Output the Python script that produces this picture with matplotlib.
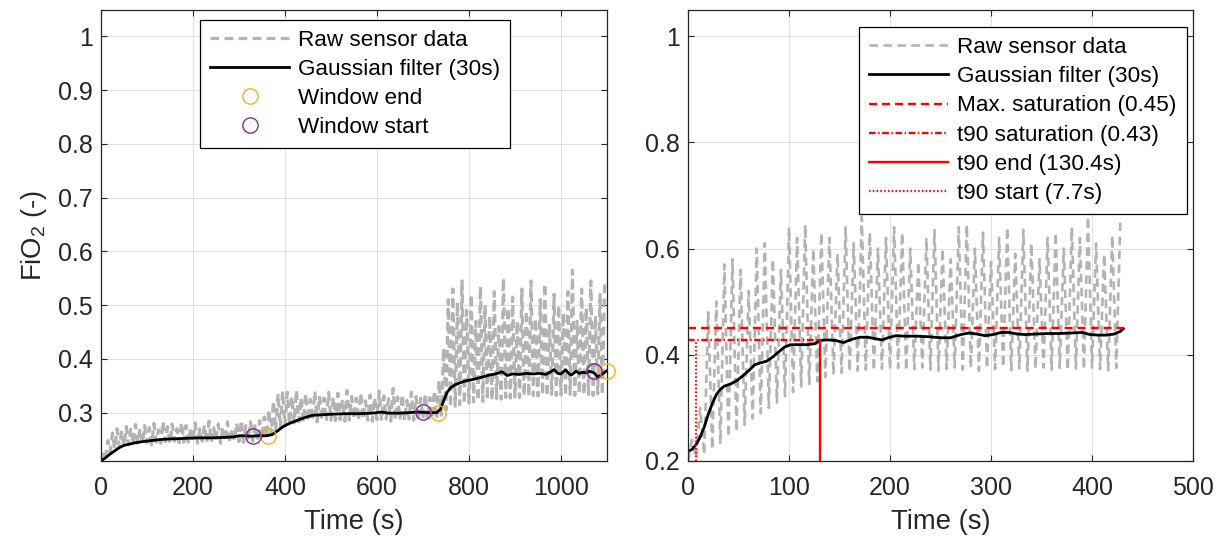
import numpy as np
import matplotlib
matplotlib.use("Agg")
import matplotlib.pyplot as plt

plt.rcParams["font.family"] = ["Liberation Sans", "DejaVu Sans"]
plt.rcParams["mathtext.default"] = "regular"

# --- left panel: full run, three windows ---------------------------------
left_period = 10  # s per breath
left_troughs = [
    0.210, 0.218, 0.226, 0.232, 0.236, 0.238, 0.240, 0.241, 0.243, 0.242,
    0.244, 0.240, 0.245, 0.243, 0.246, 0.242, 0.247, 0.244, 0.245, 0.243,
    0.246, 0.243, 0.247, 0.244, 0.245, 0.248, 0.243, 0.246, 0.244, 0.247,
    0.246, 0.245, 0.248, 0.247, 0.246, 0.250, 0.254, 0.260, 0.266, 0.272,
    0.276, 0.279, 0.281, 0.283, 0.282, 0.284, 0.285, 0.283, 0.286, 0.284,
    0.286, 0.285, 0.287, 0.284, 0.286, 0.288, 0.285, 0.287, 0.286, 0.284,
    0.287, 0.285, 0.288, 0.284, 0.286, 0.287, 0.285, 0.288, 0.286, 0.285,
    0.288, 0.286, 0.289, 0.287, 0.295, 0.305, 0.310, 0.312, 0.315, 0.316,
    0.318, 0.320, 0.322, 0.321, 0.324, 0.323, 0.326, 0.325, 0.328, 0.327,
    0.329, 0.328, 0.331, 0.330, 0.332, 0.331, 0.333, 0.330, 0.334, 0.332,
    0.333, 0.331, 0.334, 0.332, 0.335, 0.333, 0.334, 0.332, 0.335, 0.333,
]
left_peaks = [
    0.228, 0.248, 0.262, 0.270, 0.266, 0.274, 0.272, 0.278, 0.270, 0.276,
    0.272, 0.280, 0.268, 0.284, 0.274, 0.279, 0.270, 0.282, 0.276, 0.272,
    0.281, 0.270, 0.277, 0.284, 0.272, 0.279, 0.274, 0.283, 0.271, 0.280,
    0.286, 0.276, 0.283, 0.278, 0.285, 0.292, 0.305, 0.322, 0.335, 0.340,
    0.338, 0.330, 0.342, 0.328, 0.336, 0.325, 0.340, 0.331, 0.327, 0.338,
    0.329, 0.336, 0.324, 0.341, 0.330, 0.327, 0.337, 0.322, 0.333, 0.328,
    0.340, 0.331, 0.326, 0.345, 0.329, 0.334, 0.323, 0.338, 0.330, 0.327,
    0.336, 0.328, 0.341, 0.360, 0.420, 0.510, 0.530, 0.505, 0.545, 0.490,
    0.520, 0.470, 0.535, 0.500, 0.480, 0.525, 0.460, 0.550, 0.495, 0.515,
    0.470, 0.530, 0.490, 0.545, 0.475, 0.510, 0.540, 0.465, 0.520, 0.500,
    0.485, 0.525, 0.565, 0.470, 0.530, 0.495, 0.545, 0.480, 0.520, 0.540,
]
left_filt_t = [
    0, 10, 20, 30, 40, 50, 60, 75, 90, 110, 130, 150, 180, 210, 240, 270,
    290, 300, 315, 325, 340, 360, 372, 384, 396, 410, 425, 440, 460, 480,
    500, 530, 560, 590, 610, 625, 650, 670, 690, 710, 730, 738, 745, 752,
    760, 770, 792, 810, 828, 845, 858, 872, 883, 895, 910, 925, 940, 955,
    967, 976, 985, 993, 1000, 1010, 1018, 1023, 1033, 1040, 1047, 1055,
    1062, 1072, 1080, 1090, 1100,
]
left_filt_y = [
    0.210, 0.216, 0.223, 0.229, 0.235, 0.239, 0.241, 0.244, 0.246, 0.248,
    0.250, 0.251, 0.252, 0.253, 0.253, 0.254, 0.255, 0.257, 0.257, 0.256,
    0.257, 0.257, 0.259, 0.266, 0.274, 0.280, 0.285, 0.290, 0.295, 0.296,
    0.297, 0.298, 0.298, 0.299, 0.301, 0.299, 0.299, 0.300, 0.301, 0.300,
    0.300, 0.306, 0.322, 0.337, 0.346, 0.352, 0.359, 0.362, 0.366, 0.370,
    0.372, 0.376, 0.369, 0.372, 0.371, 0.373, 0.372, 0.373, 0.371, 0.375,
    0.380, 0.373, 0.372, 0.380, 0.372, 0.370, 0.377, 0.373, 0.375, 0.374,
    0.377, 0.374, 0.366, 0.372, 0.378,
]
win_start_t = [331, 700, 1071]
win_start_y = [0.256, 0.302, 0.377]
win_end_t = [363, 733, 1100]
win_end_y = [0.256, 0.300, 0.377]

# --- right panel: one window, t90 analysis ---------------------------------
right_period = 8
right_troughs = [
    0.200, 0.205, 0.212, 0.222, 0.232, 0.245, 0.255, 0.268, 0.280, 0.290,
    0.300, 0.310, 0.322, 0.330, 0.340, 0.345, 0.350, 0.358, 0.362, 0.366,
    0.368, 0.370, 0.372, 0.370, 0.374, 0.372, 0.375, 0.370, 0.373, 0.376,
    0.372, 0.370, 0.373, 0.376, 0.372, 0.375, 0.370, 0.374, 0.373, 0.376,
    0.371, 0.374, 0.370, 0.373, 0.376, 0.372, 0.375, 0.371, 0.374, 0.372,
    0.376, 0.373, 0.371, 0.375,
]
right_peaks = [
    0.240, 0.300, 0.480, 0.500, 0.570, 0.580, 0.560, 0.520, 0.600, 0.610,
    0.580, 0.560, 0.640, 0.620, 0.645, 0.600, 0.630, 0.620, 0.590, 0.640,
    0.610, 0.660, 0.630, 0.600, 0.620, 0.640, 0.630, 0.600, 0.575, 0.620,
    0.635, 0.600, 0.580, 0.640, 0.645, 0.600, 0.630, 0.575, 0.620, 0.640,
    0.590, 0.635, 0.610, 0.580, 0.620, 0.630, 0.600, 0.640, 0.620, 0.660,
    0.610, 0.590, 0.625, 0.650,
]
right_filt_t = [
    0, 4, 8, 12, 16, 20, 24, 28, 32, 36, 42, 48, 54, 60, 66, 72, 78, 84,
    90, 96, 102, 110, 118, 126, 130.4, 138, 146, 154, 162, 170, 178, 186,
    192, 198, 206, 214, 226, 238, 250, 260, 270, 278, 286, 294, 302, 310,
    318, 326, 334, 344, 356, 368, 380, 390, 398, 406, 414, 422, 428, 431,
]
right_filt_y = [
    0.218, 0.222, 0.231, 0.245, 0.264, 0.288, 0.308, 0.325, 0.335, 0.341,
    0.345, 0.351, 0.360, 0.370, 0.381, 0.385, 0.388, 0.396, 0.406, 0.415,
    0.419, 0.419, 0.419, 0.421, 0.427, 0.428, 0.427, 0.423, 0.429, 0.433,
    0.433, 0.430, 0.428, 0.432, 0.436, 0.435, 0.435, 0.434, 0.432, 0.432,
    0.438, 0.441, 0.439, 0.436, 0.438, 0.442, 0.442, 0.439, 0.438, 0.439,
    0.440, 0.440, 0.441, 0.442, 0.438, 0.437, 0.437, 0.439, 0.444, 0.449,
]
max_sat = 0.45
t90_sat = 0.427
t90_end = 130.4
t90_start = 7.7
t_stop = 431


def zigzag(troughs, peaks, period):
    # one trough and one peak per breath
    y = np.empty(2 * len(troughs))
    y[0::2] = troughs
    y[1::2] = peaks
    t = np.arange(len(y)) * (period / 2)
    return t, y


GRAY = (0.7, 0.7, 0.7)
AX_COL = "#262626"
TICK_FS = 18
LEG_FS = 16.2
LAB_FS = 19.8

fig = plt.figure(figsize=(12.18, 5.4), dpi=100)
ax_l = fig.add_axes([0.0829, 0.1463, 0.4154, 0.8361])
ax_r = fig.add_axes([0.5649, 0.1463, 0.4146, 0.8361])

# left
t, y = zigzag(left_troughs, left_peaks, left_period)
ax_l.plot(t, y, color=GRAY, lw=2.3, ls=(0, (2.7, 1.7)), label="Raw sensor data")
ax_l.plot(left_filt_t, left_filt_y, color="black", lw=2.0, label="Gaussian filter (30s)")
ax_l.plot(win_end_t, win_end_y, ls="none", marker="o", ms=11, mfc="none",
          mec="#EDB120", mew=1.0, clip_on=False, label="Window end", zorder=5)
ax_l.plot(win_start_t, win_start_y, ls="none", marker="o", ms=11, mfc="none",
          mec="#7E2F8E", mew=1.0, clip_on=False, label="Window start", zorder=5)
ax_l.set_xlim(0, 1100)
ax_l.set_ylim(0.21, 1.05)
ax_l.set_xticks([0, 200, 400, 600, 800, 1000])
ax_l.set_yticks([0.3, 0.4, 0.5, 0.6, 0.7, 0.8, 0.9, 1.0])
ax_l.set_ylabel("FiO$_2$ (-)", fontsize=LAB_FS, color=AX_COL, labelpad=6)

# right
t, y = zigzag(right_troughs, right_peaks, right_period)
ax_r.plot(t, y, color=GRAY, lw=1.9, ls=(0, (3.2, 2.1)), label="Raw sensor data")
ax_r.plot(right_filt_t, right_filt_y, color="black", lw=2.0, label="Gaussian filter (30s)")
ax_r.plot([0, t_stop], [max_sat, max_sat], color="red", lw=1.7,
          ls=(0, (3.4, 2.1)), label="Max. saturation (0.45)")
ax_r.plot([0, t90_end], [t90_sat, t90_sat], color="red", lw=1.7,
          ls=(0, (2.8, 1.1, 0.6, 1.1)), label="t90 saturation (0.43)")
ax_r.plot([t90_end, t90_end], [0.2, t90_sat], color="red", lw=1.7,
          ls="-", label="t90 end (130.4s)")
ax_r.plot([t90_start, t90_start], [0.2, t90_sat], color="red", lw=1.6,
          ls=(0, (0.7, 1.0)), label="t90 start (7.7s)")
ax_r.set_xlim(0, 500)
ax_r.set_ylim(0.2, 1.05)
ax_r.set_xticks([0, 100, 200, 300, 400, 500])
ax_r.set_yticks([0.2, 0.4, 0.6, 0.8, 1.0])

for ax in (ax_l, ax_r):
    ax.grid(True, color="#e1e1e1", lw=0.8)
    ax.set_axisbelow(True)
    for sp in ax.spines.values():
        sp.set_color(AX_COL)
        sp.set_linewidth(0.9)
    ax.tick_params(direction="in", length=4, width=0.8, colors=AX_COL,
                   labelsize=TICK_FS, top=True, right=True)
    ax.tick_params(axis="x", pad=11)
    ax.tick_params(axis="y", pad=6)
    ax.yaxis.set_major_formatter(plt.FuncFormatter(lambda v, p: f"{v:g}"))
    ax.set_xlabel("Time (s)", fontsize=LAB_FS, color=AX_COL, labelpad=6)

leg_kw = dict(loc="upper left", fontsize=LEG_FS, frameon=True, fancybox=False,
              framealpha=1, edgecolor="black", borderaxespad=0, borderpad=0.45,
              handlelength=3.5, handletextpad=0.4, labelspacing=0.36)
lg = ax_l.legend(bbox_to_anchor=(0.196, 0.977), **leg_kw)
lg.get_frame().set_linewidth(0.9)
lg = ax_r.legend(bbox_to_anchor=(0.339, 0.961), **leg_kw)
lg.get_frame().set_linewidth(0.9)

fig.savefig("out.png", dpi=100)
